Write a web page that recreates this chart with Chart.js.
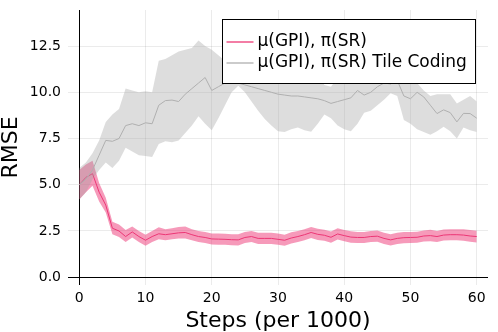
<!DOCTYPE html>
<html>
<head>
<meta charset="utf-8">
<script src="https://cdn.jsdelivr.net/npm/chart.js@4.4.0/dist/chart.umd.min.js"></script>
<style>
  html, body { margin: 0; padding: 0; background: #fff; }
  #wrap { width: 498px; height: 332px; }
</style>
</head>
<body>
<div id="wrap"><canvas id="rmseChart"></canvas></div>
<script>
// steps in thousands
const steps = [0, 1, 2, 3, 4, 5, 6, 7, 8, 9, 10, 11, 12, 13, 14, 15, 16, 17, 18, 19, 20,
  21, 22, 23, 24, 25, 26, 27, 28, 29, 30, 31, 32, 33, 34, 35, 36, 37, 38, 39, 40,
  41, 42, 43, 44, 45, 46, 47, 48, 49, 50, 51, 52, 53, 54, 55, 56, 57, 58, 59, 60];

// mu(GPI), pi(SR)
const srMean = [5.0, 5.4, 5.6, 4.6, 3.9, 2.65, 2.5, 2.2, 2.45, 2.2, 2.0, 2.2, 2.35, 2.3, 2.35, 2.4, 2.42,
  2.3, 2.2, 2.15, 2.07, 2.06, 2.05, 2.03, 2.02, 2.15, 2.2, 2.1, 2.1, 2.1, 2.05, 2.0, 2.12, 2.2, 2.3,
  2.42, 2.32, 2.27, 2.16, 2.34, 2.25, 2.17, 2.15, 2.15, 2.2, 2.22, 2.1, 2.02, 2.1, 2.14, 2.15, 2.16,
  2.23, 2.25, 2.2, 2.28, 2.3, 2.3, 2.28, 2.23, 2.2];
const srUpper = [5.8, 6.1, 6.3, 5.1, 4.3, 3.0, 2.85, 2.55, 2.75, 2.5, 2.3, 2.5, 2.7, 2.6, 2.65, 2.72, 2.75,
  2.6, 2.5, 2.45, 2.37, 2.36, 2.35, 2.33, 2.33, 2.45, 2.5, 2.4, 2.4, 2.4, 2.36, 2.3, 2.43, 2.5, 2.6,
  2.72, 2.62, 2.57, 2.47, 2.65, 2.55, 2.48, 2.45, 2.45, 2.5, 2.53, 2.4, 2.32, 2.4, 2.45, 2.45, 2.46,
  2.53, 2.57, 2.5, 2.58, 2.6, 2.6, 2.6, 2.55, 2.52];
const srLower = [4.2, 4.6, 4.95, 4.1, 3.5, 2.33, 2.18, 1.9, 2.15, 1.9, 1.7, 1.9, 2.05, 2.0, 2.05, 2.1, 2.1,
  2.0, 1.9, 1.85, 1.77, 1.76, 1.75, 1.73, 1.72, 1.85, 1.9, 1.8, 1.8, 1.8, 1.75, 1.7, 1.82, 1.9, 2.0,
  2.12, 2.02, 1.97, 1.86, 2.04, 1.95, 1.87, 1.85, 1.85, 1.9, 1.92, 1.8, 1.72, 1.8, 1.84, 1.85, 1.86,
  1.93, 1.95, 1.9, 1.98, 2.0, 2.0, 1.97, 1.92, 1.88];

// mu(GPI), pi(SR) Tile Coding
const tileMean = [5.0, 5.3, 5.8, 6.6, 7.4, 7.35, 7.5, 8.2, 8.3, 8.2, 8.35, 8.3, 9.3, 9.55, 9.58, 9.5, 9.9,
  10.2, 10.5, 10.8, 10.1, 10.3, 10.5, 10.55, 10.5, 10.4, 10.3, 10.2, 10.1, 10.0, 9.9, 9.85, 9.8, 9.8,
  9.75, 9.7, 9.65, 9.55, 9.4, 9.5, 9.6, 9.7, 10.1, 9.85, 10.0, 10.3, 10.5, 10.45, 10.65, 9.8, 9.65,
  10.0, 9.75, 9.3, 8.85, 9.05, 8.9, 8.4, 8.86, 8.85, 8.6];
const tileUpper = [5.9, 6.2, 6.7, 7.4, 8.4, 8.8, 9.1, 10.2, 10.1, 10.0, 10.05, 10.0, 11.7, 11.8, 12.0, 12.2,
  12.3, 12.4, 12.8, 12.5, 12.3, 12.0, 11.7, 11.5, 11.3, 11.5, 11.8, 11.9, 11.7, 11.6, 11.7, 11.8, 11.7,
  11.6, 11.6, 11.5, 11.0, 10.4, 10.3, 10.8, 11.2, 11.4, 11.7, 11.0, 11.0, 11.3, 11.4, 11.0, 11.5, 11.1,
  11.0, 10.5, 10.1, 9.8, 9.9, 9.9, 9.9, 9.4, 9.6, 9.8, 9.5];
const tileLower = [4.2, 4.6, 5.3, 5.8, 6.2, 5.9, 6.3, 7.0, 6.8, 6.6, 6.55, 6.5, 7.2, 7.35, 7.3, 7.4, 7.8,
  8.2, 8.7, 8.3, 7.95, 8.6, 9.3, 10.0, 10.35, 10.0, 9.5, 9.0, 8.55, 8.2, 7.9, 7.85, 8.0, 8.1, 7.95,
  7.87, 8.3, 8.8, 8.6, 8.2, 8.0, 7.9, 8.3, 8.9, 9.0, 9.3, 9.6, 9.95, 9.8, 8.5, 8.3, 8.0, 7.85, 7.7,
  7.9, 8.14, 7.9, 7.5, 8.1, 7.95, 7.85];

const xTicks = [0, 10, 20, 30, 40, 50, 60];
const yTicks = [0, 2.5, 5, 7.5, 10, 12.5];

const pink = "rgb(236, 54, 117)";
const pinkBand = "rgba(238, 54, 117, 0.5)";
const grey = "rgb(175, 175, 175)";
const greyBand = "rgba(160, 160, 160, 0.36)";
const font = '"DejaVu Sans", "Liberation Sans", sans-serif';

function pts(arr) {
  return steps.map((s, i) => ({ x: s, y: arr[i] }));
}

const noMark = { pointRadius: 0, borderWidth: 0, tension: 0 };

const legendItems = [
  { label: "\u03bc(GPI), \u03c0(SR)", color: pink },
  { label: "\u03bc(GPI), \u03c0(SR) Tile Coding", color: grey },
];

const legendBox = {
  id: "legendBox",
  afterDraw(chart) {
    const { ctx, chartArea } = chart;
    ctx.save();
    ctx.font = "17px " + font;
    const textW = Math.max(...legendItems.map((it) => ctx.measureText(it.label).width));
    const right = Math.round(chartArea.right - 13) + 0.5;
    const top = Math.round(chartArea.top + 9) + 0.5;
    const left = Math.round(right - (35 + textW + 9)) + 0.5;
    const height = 64;
    ctx.fillStyle = "#fff";
    ctx.fillRect(left, top, right - left, height);
    ctx.strokeStyle = "#000";
    ctx.lineWidth = 1;
    ctx.strokeRect(left, top, right - left, height);
    ctx.textBaseline = "middle";
    legendItems.forEach((it, i) => {
      const y = top + 22.5 + i * 21;
      ctx.strokeStyle = it.color;
      ctx.lineWidth = 1.3;
      ctx.beginPath();
      ctx.moveTo(left + 4, y);
      ctx.lineTo(left + 31, y);
      ctx.stroke();
      ctx.fillStyle = "#000";
      ctx.fillText(it.label, left + 35, y);
    });
    ctx.restore();
  },
};

const gridColor = (c) => (c.tick && c.tick.value === 0 ? "#000" : "rgba(0,0,0,0.08)");

// drop the label-overhang padding so the layout padding alone sets the plot box
function noOverhang(s) {
  s.paddingTop = 0;
  s.paddingBottom = 0;
  s.paddingLeft = 0;
  s.paddingRight = 0;
}

const ctx = document.getElementById("rmseChart").getContext("2d");
new Chart(ctx, {
  type: "line",
  data: {
    datasets: [
      { data: pts(srLower), fill: false, order: 4, ...noMark },
      { data: pts(srUpper), fill: 0, backgroundColor: pinkBand, order: 4, ...noMark },
      { data: pts(srMean), borderColor: pink, borderWidth: 1, pointRadius: 0, tension: 0, fill: false, order: 3 },
      { data: pts(tileLower), fill: false, order: 2, ...noMark },
      { data: pts(tileUpper), fill: 3, backgroundColor: greyBand, order: 2, ...noMark },
      { data: pts(tileMean), borderColor: grey, borderWidth: 1, pointRadius: 0, tension: 0, fill: false, order: 1 },
    ],
  },
  options: {
    responsive: true,
    maintainAspectRatio: false,
    animation: false,
    layout: { padding: { top: 10, right: 10, left: 0, bottom: 0 } },
    plugins: {
      legend: { display: false },
      tooltip: { enabled: false },
    },
    scales: {
      x: {
        type: "linear",
        min: -1.7,
        max: 61.7,
        afterBuildTicks: (s) => { s.ticks = xTicks.map((v) => ({ value: v })); },
        afterFit: (s) => { s.height = 47; noOverhang(s); },
        border: { display: false },
        grid: { color: gridColor, lineWidth: 1, drawTicks: false },
        ticks: { color: "#000", padding: 5, maxRotation: 0, font: { family: font, size: 14 } },
        title: {
          display: true,
          text: "Steps (per 1000)",
          color: "#000",
          padding: 0,
          font: { family: font, size: 22, lineHeight: 1 },
        },
      },
      y: {
        min: -0.42,
        max: 14.45,
        afterBuildTicks: (s) => { s.ticks = yTicks.map((v) => ({ value: v })); },
        afterFit: (s) => { s.width = 68; noOverhang(s); },
        border: { display: false },
        grid: { color: gridColor, lineWidth: 1, drawTicks: false },
        ticks: {
          color: "#000",
          padding: 7,
          font: { family: font, size: 14 },
          callback: (v) => Number(v).toFixed(1),
        },
        title: {
          display: true,
          text: "RMSE",
          color: "#000",
          padding: 0,
          font: { family: font, size: 22, lineHeight: 1 },
        },
      },
    },
  },
  plugins: [legendBox],
});
</script>
</body>
</html>
